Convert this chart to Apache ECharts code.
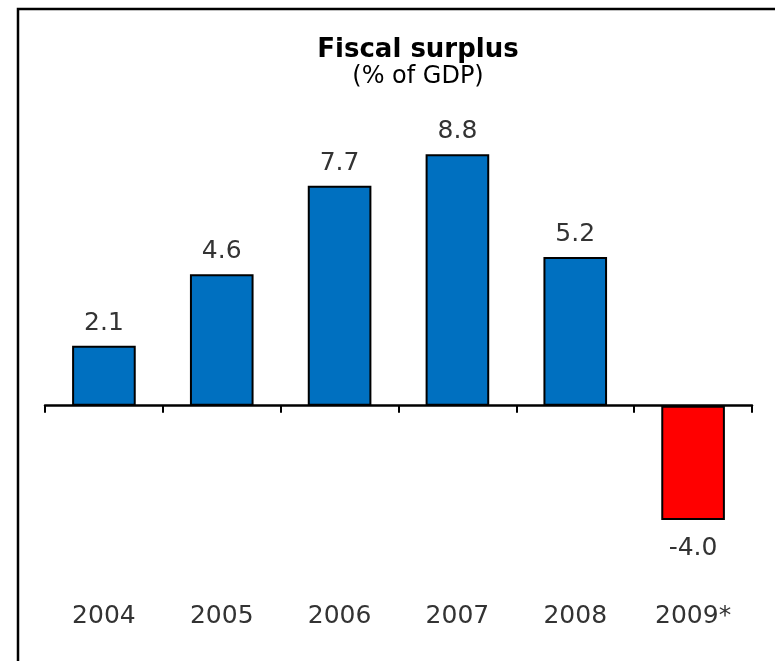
<!DOCTYPE html>
<html>
<head>
<meta charset="utf-8">
<script src="https://cdn.jsdelivr.net/npm/echarts@6/dist/echarts.min.js"></script>
<style>
  html, body { margin: 0; padding: 0; background: #fff; }
  #chart { width: 775px; height: 661px; }
</style>
</head>
<body>
<div id="chart"></div>
<script>
// Fiscal surplus, % of GDP
const years = ['2004', '2005', '2006', '2007', '2008', '2009*'];
const surplus = [2.1, 4.6, 7.7, 8.8, 5.2, -4.0];

const FONT = 'DejaVu Sans';
const BLUE = '#0070C0';
const RED = '#FF0000';

const chart = echarts.init(document.getElementById('chart'), null, { renderer: 'canvas' });

chart.setOption({
  animation: false,
  backgroundColor: '#ffffff',
  title: {
    text: 'Fiscal surplus',
    subtext: '(% of GDP)',
    left: 418,
    top: 37,
    textAlign: 'center',
    padding: 0,
    itemGap: 2,
    textStyle: { fontFamily: FONT, fontSize: 26, fontWeight: 'bold', color: '#000' },
    subtextStyle: { fontFamily: FONT, fontSize: 24, color: '#000' }
  },
  grid: {
    left: 45, right: 23, top: 120, bottom: 84,
    containLabel: false,
    outerBoundsMode: 'none'
  },
  xAxis: [
    {
      // zero line with category boundary ticks
      type: 'category',
      data: years,
      axisLine: { onZero: true, lineStyle: { color: '#000', width: 2.5 } },
      axisTick: { show: true, length: 7, lineStyle: { color: '#000', width: 2 } },
      axisLabel: { show: false },
      splitLine: { show: false }
    },
    {
      // year labels along the bottom edge
      type: 'category',
      data: years,
      position: 'bottom',
      axisLine: { show: false, onZero: false },
      axisTick: { show: false },
      axisLabel: {
        show: true,
        margin: 27,
        fontFamily: FONT,
        fontSize: 25,
        color: '#333'
      },
      splitLine: { show: false }
    }
  ],
  yAxis: {
    type: 'value',
    min: -6,
    max: 10,
    show: false,
    splitLine: { show: false }
  },
  series: [{
    type: 'bar',
    xAxisIndex: 0,
    barWidth: '54%',
    data: surplus.map(v => ({
      value: v,
      itemStyle: { color: v < 0 ? RED : BLUE },
      label: { position: v < 0 ? 'bottom' : 'top', distance: v < 0 ? 16 : 10 }
    })),
    itemStyle: { borderColor: '#000', borderWidth: 2 },
    label: {
      show: true,
      fontFamily: FONT,
      fontSize: 25,
      color: '#333',
      formatter: p => p.value.toFixed(1)
    }
  }],
  graphic: [
    {
      type: 'polyline',
      shape: { points: [[18, 661], [18, 9], [775, 9]] },
      style: { stroke: '#000', lineWidth: 2.5, fill: null },
      silent: true
    }
  ]
});
</script>
</body>
</html>
